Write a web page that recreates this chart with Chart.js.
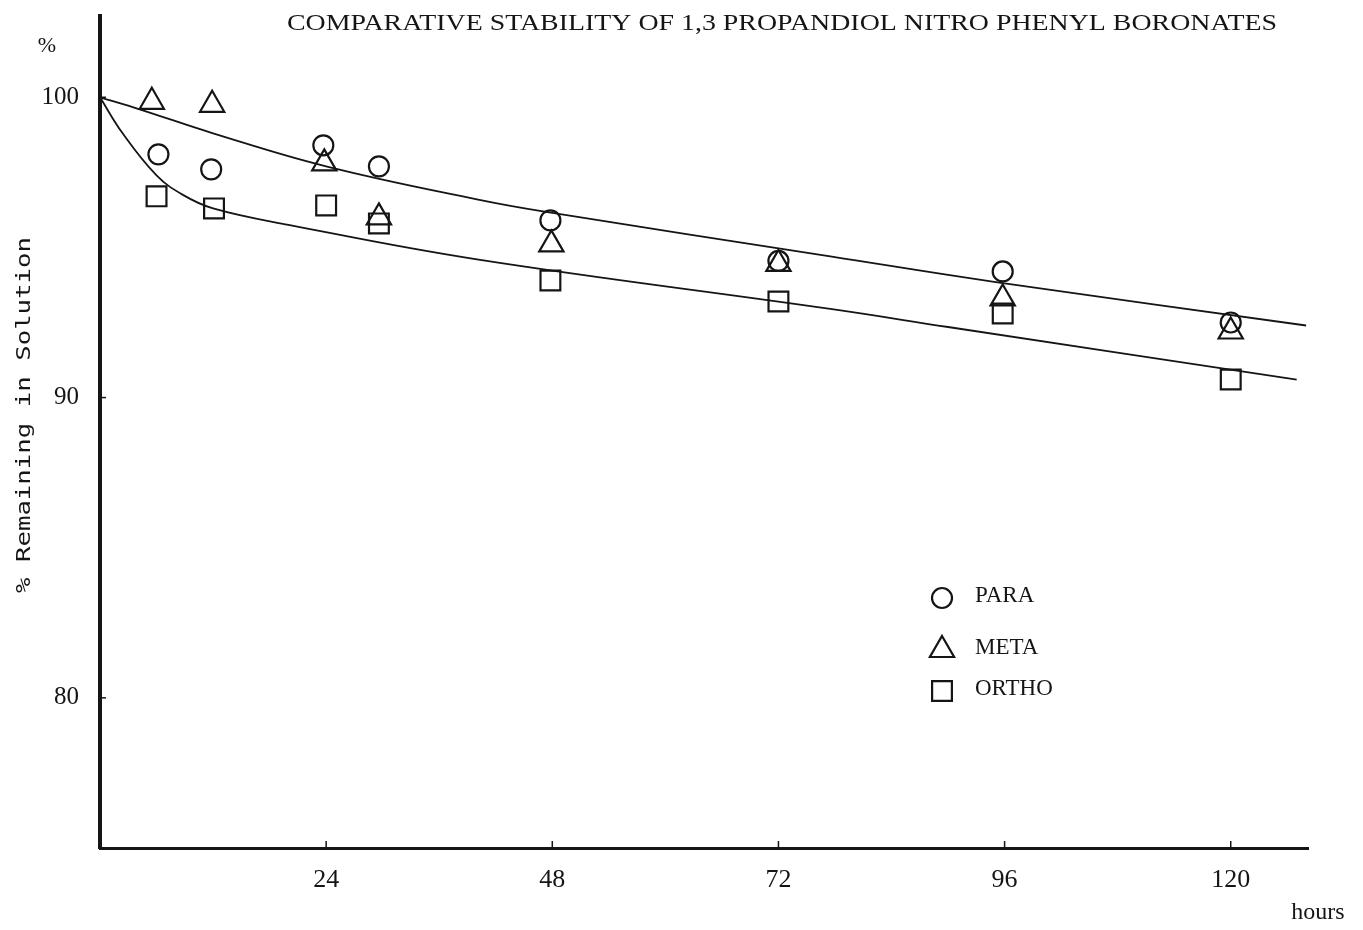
<!DOCTYPE html>
<html>
<head>
<meta charset="utf-8">
<script src="https://cdn.jsdelivr.net/npm/chart.js@4/dist/chart.umd.min.js"></script>
<style>
  html, body { margin: 0; padding: 0; background: #fff; }
  #wrap { width: 1363px; height: 930px; }
</style>
</head>
<body>
<div id="wrap"><canvas id="stability_chart" width="1363" height="930"></canvas></div>
<script>
const title_text = "COMPARATIVE STABILITY OF 1,3 PROPANDIOL NITRO PHENYL BORONATES";
const y_label = "% Remaining in Solution";
const x_label = "hours";

const x_ticks = [24, 48, 72, 96, 120];
const y_ticks = [80, 90, 100];

const para_hours = [6.2, 11.8, 23.7, 29.6, 47.8, 72.0, 95.8, 120.0];
const para_values = [98.1, 97.6, 98.4, 97.7, 95.9, 94.55, 94.2, 92.5];
const meta_hours = [5.5, 11.9, 23.8, 29.6, 47.9, 72.0, 95.8, 120.0];
const meta_values = [99.85, 99.75, 97.8, 96.0, 95.1, 94.45, 93.3, 92.2];
const ortho_hours = [6.0, 12.1, 24.0, 29.6, 47.8, 72.0, 95.8, 120.0];
const ortho_values = [96.7, 96.3, 96.4, 95.8, 93.9, 93.2, 92.8, 90.6];

// hand drawn fit curves
const upper_fit_hours = [0, 4.2, 12, 24, 40, 47, 77.5, 96, 128];
const upper_fit_values = [100, 99.6, 98.8, 97.7, 96.6, 96.2, 94.7, 93.8, 92.4];
const lower_fit_hours = [0, 2.4, 6, 8.8, 12, 20, 40, 77.5, 90, 127];
const lower_fit_values = [100, 98.8, 97.4, 96.75, 96.3, 95.75, 94.6, 92.95, 92.35, 90.6];

const INK = "#151515";

function toPoints(xs, ys) {
  return xs.map(function(x, i) { return { x: x, y: ys[i] }; });
}

function drawMarker(ctx, style, radius, x, y) {
  ctx.beginPath();
  if (style === "circle") {
    ctx.arc(x, y, radius, 0, Math.PI * 2);
  } else if (style === "triangle") {
    ctx.moveTo(x, y - radius);
    ctx.lineTo(x + radius * 0.866, y + radius / 2);
    ctx.lineTo(x - radius * 0.866, y + radius / 2);
    ctx.closePath();
  } else {
    const s = radius * Math.SQRT1_2;
    ctx.rect(x - s, y - s, 2 * s, 2 * s);
  }
  ctx.stroke();
}

const extras = {
  id: "extras",
  afterDraw: function(chart) {
    const ctx = chart.ctx;
    const xs = chart.scales.x;
    const ys = chart.scales.y;
    ctx.save();
    ctx.fillStyle = INK;
    ctx.strokeStyle = INK;

    // small inner tick marks
    ctx.lineWidth = 1.5;
    x_ticks.forEach(function(v) {
      const px = xs.getPixelForValue(v);
      ctx.beginPath();
      ctx.moveTo(px, ys.bottom);
      ctx.lineTo(px, ys.bottom - 7);
      ctx.stroke();
    });
    y_ticks.forEach(function(v) {
      const py = ys.getPixelForValue(v);
      ctx.beginPath();
      ctx.moveTo(xs.left, py);
      ctx.lineTo(xs.left + 6, py);
      ctx.stroke();
    });

    // title, stretched to the typed width
    ctx.font = "24px 'Liberation Serif'";
    ctx.textBaseline = "alphabetic";
    ctx.textAlign = "left";
    const tw = ctx.measureText(title_text).width;
    ctx.save();
    ctx.translate(287, 30);
    ctx.scale(990 / tw, 1);
    ctx.fillText(title_text, 0, 0);
    ctx.restore();

    // % above y axis
    ctx.font = "22px 'Liberation Serif'";
    ctx.textAlign = "center";
    ctx.textBaseline = "middle";
    ctx.fillText("%", 47, 46);

    // hours
    ctx.font = "24px 'Liberation Serif'";
    ctx.fillText(x_label, 1318, 913);

    // rotated y label
    ctx.save();
    ctx.translate(25, 415);
    ctx.rotate(-Math.PI / 2);
    ctx.font = "19px 'DejaVu Sans Mono'";
    const lw = ctx.measureText(y_label).width;
    ctx.scale(356 / lw, 1);
    ctx.fillText(y_label, 0, 0);
    ctx.restore();

    // legend
    const legend = [
      { style: "circle", r: 10, y: 598, label: "PARA" },
      { style: "triangle", r: 14, y: 650, label: "META" },
      { style: "rect", r: 14, y: 691, label: "ORTHO" }
    ];
    ctx.lineWidth = 2.2;
    ctx.textAlign = "left";
    ctx.font = "23px 'Liberation Serif'";
    legend.forEach(function(item) {
      drawMarker(ctx, item.style, item.r, 942, item.y);
      ctx.fillText(item.label, 975, item.y - 2);
    });
    ctx.restore();
  }
};

const marker_base = {
  showLine: false,
  borderColor: INK,
  backgroundColor: "rgba(0,0,0,0)",
  borderWidth: 2.2
};

new Chart("stability_chart", {
  type: "scatter",
  data: {
    datasets: [
      Object.assign({ label: "PARA", data: toPoints(para_hours, para_values), pointStyle: "circle", pointRadius: 10 }, marker_base),
      Object.assign({ label: "META", data: toPoints(meta_hours, meta_values), pointStyle: "triangle", pointRadius: 14 }, marker_base),
      Object.assign({ label: "ORTHO", data: toPoints(ortho_hours, ortho_values), pointStyle: "rect", pointRadius: 14 }, marker_base),
      {
        label: "upper fit",
        data: toPoints(upper_fit_hours, upper_fit_values),
        showLine: true,
        pointRadius: 0,
        borderColor: INK,
        borderWidth: 1.8,
        tension: 0.4
      },
      {
        label: "lower fit",
        data: toPoints(lower_fit_hours, lower_fit_values),
        showLine: true,
        pointRadius: 0,
        borderColor: INK,
        borderWidth: 1.8,
        tension: 0.4
      }
    ]
  },
  options: {
    responsive: false,
    animation: false,
    layout: { padding: { top: 14, right: 55, left: 0, bottom: 0 } },
    plugins: {
      legend: { display: false },
      tooltip: { enabled: false },
      title: { display: false }
    },
    scales: {
      x: {
        type: "linear",
        min: 0,
        max: 128.2,
        afterFit: function(scale) {
          scale.height = 82;
          scale.paddingLeft = 0;
          scale.paddingRight = 0;
        },
        afterBuildTicks: function(scale) {
          scale.ticks = x_ticks.map(function(v) { return { value: v }; });
        },
        grid: { display: false, drawTicks: false },
        border: { display: true, color: INK, width: 3 },
        ticks: {
          color: INK,
          padding: 17,
          maxRotation: 0,
          autoSkip: false,
          font: { family: "'Liberation Serif'", size: 26 }
        }
      },
      y: {
        type: "linear",
        min: 75,
        max: 102.7,
        afterFit: function(scale) {
          scale.width = 100;
          scale.paddingTop = 0;
          scale.paddingBottom = 0;
        },
        afterBuildTicks: function(scale) {
          scale.ticks = y_ticks.map(function(v) { return { value: v }; });
        },
        grid: { display: false, drawTicks: false },
        border: { display: true, color: INK, width: 4 },
        ticks: {
          color: INK,
          padding: 21,
          autoSkip: false,
          font: { family: "'Liberation Serif'", size: 25 }
        }
      }
    }
  },
  plugins: [extras]
});
</script>
</body>
</html>
